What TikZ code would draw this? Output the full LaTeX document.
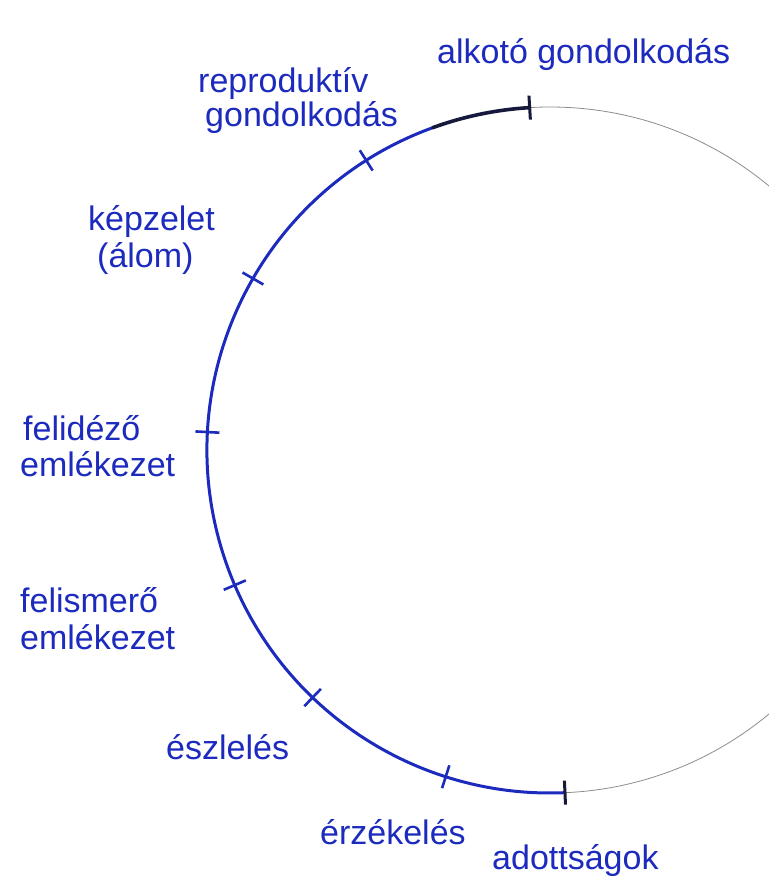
\documentclass[tikz,border=0pt]{standalone}
\usepackage{fontspec}
\setmainfont{Liberation Sans}
\definecolor{ink}{RGB}{28,42,190}
\definecolor{darkink}{RGB}{22,24,60}
\definecolor{pencil}{RGB}{140,140,140}
\begin{document}
\begin{tikzpicture}[x=1pt,y=-1pt,
  lbl/.style={text=ink, font=\fontsize{34}{36}\selectfont, inner sep=0pt, anchor=west},
  arcline/.style={draw=ink, line width=3pt, line cap=round},
  tickmark/.style={draw=ink, line width=2.6pt},
  darktick/.style={draw=darkink, line width=3pt},
]
\useasboundingbox (0,0) rectangle (769,879);
\clip (0,0) rectangle (769,879);
\coordinate (c) at (550,450);
% pencil circle
\draw[pencil, line width=0.8pt] (c) circle[radius=343];
% blue arc
\path (c) ++(-93.4:343) coordinate (top);
\path (c) ++(-110:343) coordinate (blk);
\draw[arcline] (blk) arc[start angle=-110, end angle=-272.5, radius=343] coordinate (bot);
\draw[draw=darkink, line width=3.6pt, line cap=round] (top) arc[start angle=-93.4, end angle=-110, radius=343];
% ticks
\foreach \a/\n in {-122.4/t2,-150/t3,-177/t4,-203.2/t5,-226.2/t6,-252.3/t7}{
  \path (c) ++(\a:331) coordinate (\n a) (c) ++(\a:355) coordinate (\n b);
  \draw[tickmark] (\n a) -- (\n b);
}
\path (c) ++(-93.4:331) coordinate (t1a) (c) ++(-93.4:355) coordinate (t1b);
\draw[darktick] (t1a) -- (t1b);
\path (c) ++(-272.5:331) coordinate (t8a) (c) ++(-272.5:355) coordinate (t8b);
\draw[darktick] (t8a) -- (t8b);
% labels
\node[lbl] (alkoto) at (437,55) {alkotó gondolkodás};
\node[lbl] (repro) at (198,84) {reproduktív};
\node[lbl] (gond) at (205,118) {gondolkodás};
\node[lbl] (kepz) at (88,222) {képzelet};
\node[lbl] (alom) at (97,258) {(álom)};
\node[lbl] (felid) at (23,428) {felidéző};
\node[lbl] (emlek1) at (20,464) {emlékezet};
\node[lbl] (felism) at (20,600) {felismerő};
\node[lbl] (emlek2) at (20,637) {emlékezet};
\node[lbl] (eszl) at (166,747) {észlelés};
\node[lbl] (erz) at (320,832) {érzékelés};
\node[lbl] (adott) at (492,860) {adottságok};
\end{tikzpicture}
\end{document}
